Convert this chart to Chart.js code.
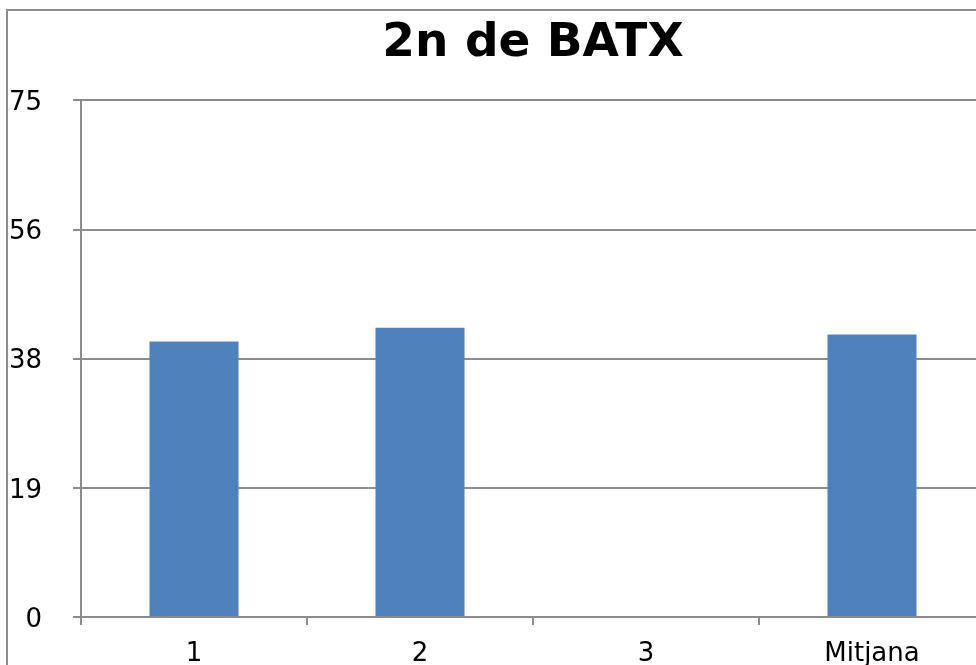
<!DOCTYPE html>
<html>
<head>
<meta charset="utf-8">
<script src="https://cdn.jsdelivr.net/npm/chart.js@4/dist/chart.umd.min.js"></script>
<style>
  html, body { margin: 0; padding: 0; background: #fff; overflow: hidden; }
  #wrap { position: relative; width: 976px; height: 665px; overflow: hidden; }
  #frame {
    position: absolute; left: 6px; top: 9px; width: 1100px; height: 700px;
    border: 2px solid #8c8c8c; box-sizing: border-box;
  }
  #box { position: absolute; left: 0; top: 0; width: 1064px; height: 665px; }
</style>
</head>
<body>
<div id="wrap">
  <div id="frame"></div>
  <div id="box"><canvas id="chart" width="1064" height="665"></canvas></div>
</div>
<script>
const categories = ['1', '2', '3', 'Mitjana'];
const notes = [40, 42, 0, 41];
const yMax = 75;
const yStep = 18.75;

const GRID = '#8c8c8c';
const FONT = 'DejaVu Sans';

// keep the title centred over the plot area instead of the whole canvas
const titleOverPlot = {
  id: 'titleOverPlot',
  afterLayout(chart) {
    const t = chart.titleBlock;
    if (!t) return;
    t.left = chart.chartArea.left;
    t.right = chart.chartArea.right;
  }
};

new Chart(document.getElementById('chart').getContext('2d'), {
  type: 'bar',
  data: {
    labels: categories,
    datasets: [{
      data: notes,
      backgroundColor: '#4f81bd',
      borderWidth: 0,
      categoryPercentage: 1,
      barPercentage: 0.394
    }]
  },
  plugins: [titleOverPlot],
  options: {
    responsive: false,
    animation: false,
    layout: { padding: { left: 0, right: 79, top: 0, bottom: 0 } },
    plugins: {
      legend: { display: false },
      tooltip: { enabled: false },
      title: {
        display: true,
        text: '2n de BATX',
        color: '#000',
        font: { family: FONT, size: 47, weight: 'bold', lineHeight: 1.2 },
        padding: { top: 16, bottom: 28 }
      }
    },
    scales: {
      x: {
        grid: { display: true, drawOnChartArea: false, offset: true, color: GRID, lineWidth: 2, tickLength: 8 },
        border: { color: GRID, width: 2 },
        ticks: { color: '#000', font: { family: FONT, size: 26 }, padding: 14, maxRotation: 0 },
        afterFit: s => { s.height = 48; }
      },
      y: {
        min: 0,
        max: yMax,
        grid: { color: GRID, lineWidth: 2, tickLength: 8 },
        border: { color: GRID, width: 2 },
        ticks: {
          stepSize: yStep,
          color: '#000',
          font: { family: FONT, size: 26 },
          padding: 31,
          labelOffset: 3,
          callback: v => Math.round(v)
        },
        afterFit: s => { s.width = 81; }
      }
    }
  }
});
</script>
</body>
</html>
